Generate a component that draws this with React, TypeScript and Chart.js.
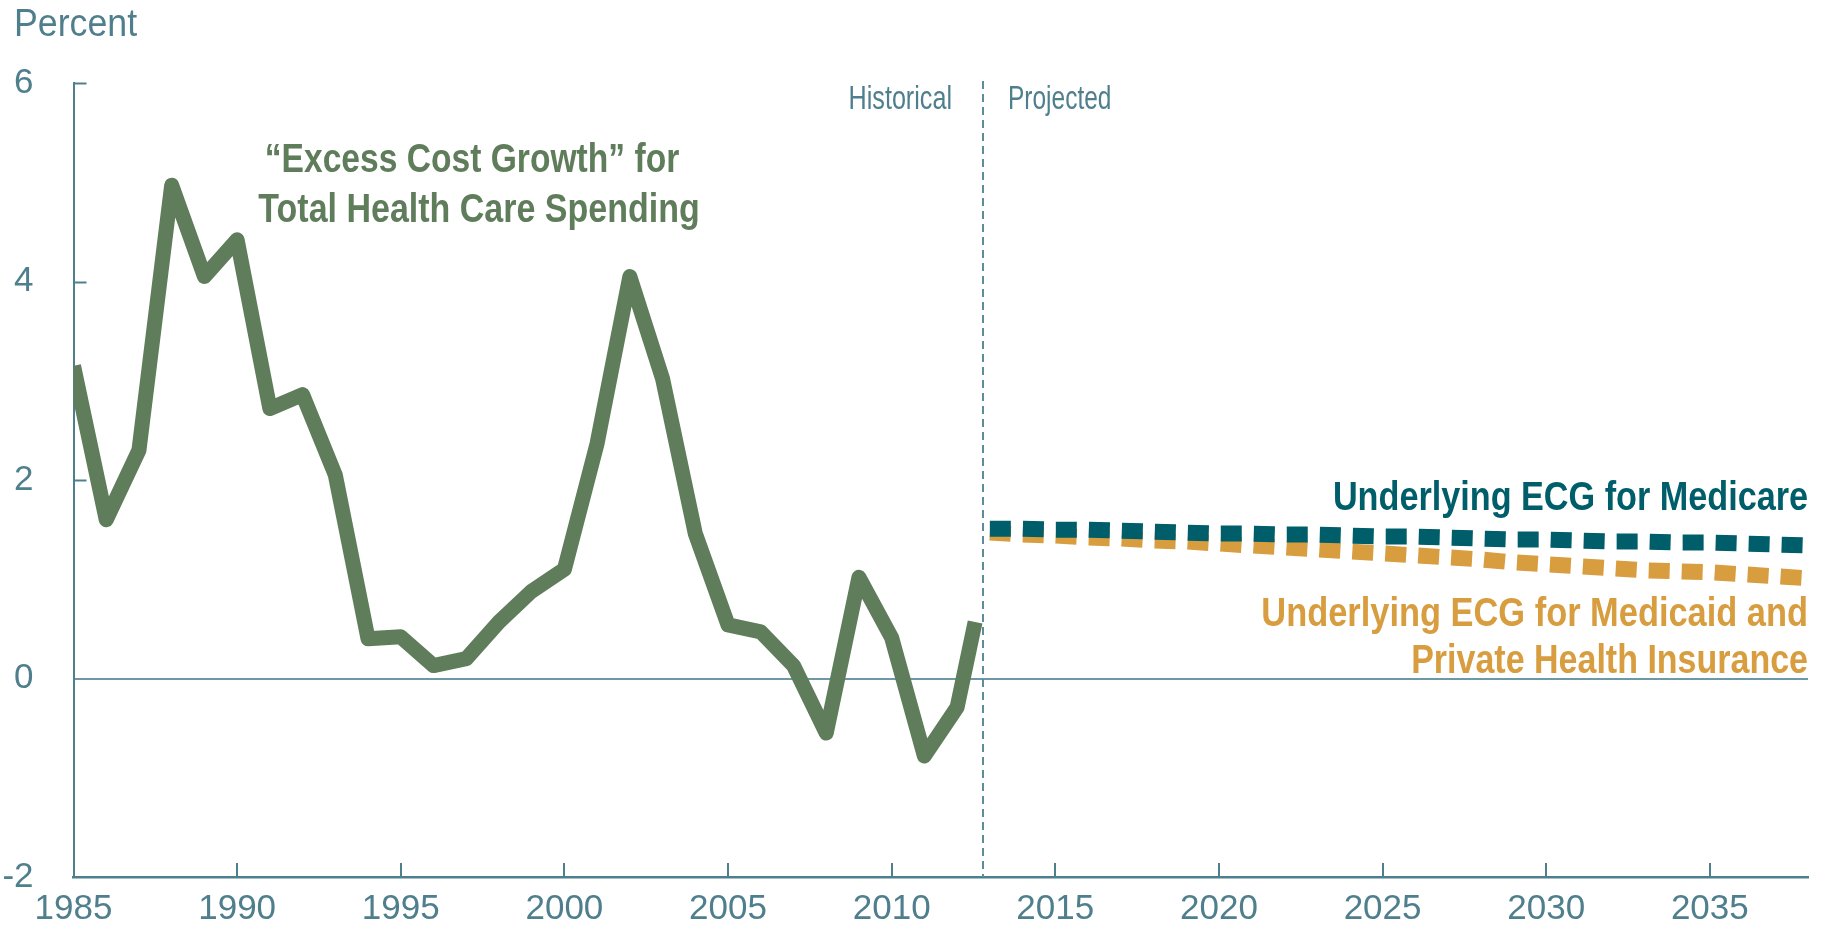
import React, { useEffect, useRef } from "react";
import { Chart, registerables } from "chart.js";

Chart.register(...registerables);

// ---------- data ----------
const histYears = [
  1985, 1986, 1987, 1988, 1989, 1990, 1991, 1992, 1993, 1994, 1995, 1996, 1997, 1998,
  1999, 2000, 2001, 2002, 2003, 2004, 2005, 2006, 2007, 2008, 2009, 2010, 2011, 2012, 2012.55,
];
const histValues = [
  3.15, 1.6, 2.3, 4.97, 4.05, 4.42, 2.72, 2.86, 2.05, 0.4, 0.42, 0.13, 0.2, 0.57,
  0.88, 1.1, 2.37, 4.05, 3.02, 1.46, 0.54, 0.47, 0.13, -0.55, 1.02, 0.41, -0.78, -0.29, 0.57,
];
const projYears = [
  2013, 2014, 2015, 2016, 2017, 2018, 2019, 2020, 2021, 2022, 2023, 2024, 2025,
  2026, 2027, 2028, 2029, 2030, 2031, 2032, 2033, 2034, 2035, 2036, 2037, 2038,
];
const medicareValues = [
  1.51, 1.51, 1.5, 1.5, 1.49, 1.48, 1.47, 1.46, 1.46, 1.45, 1.45, 1.44, 1.43,
  1.43, 1.42, 1.41, 1.4, 1.4, 1.39, 1.38, 1.38, 1.37, 1.37, 1.36, 1.35, 1.34,
];
const medicaidValues = [
  1.47, 1.45, 1.44, 1.42, 1.41, 1.39, 1.38, 1.36, 1.34, 1.32, 1.3, 1.28, 1.26,
  1.24, 1.22, 1.2, 1.17, 1.15, 1.13, 1.11, 1.09, 1.08, 1.07, 1.05, 1.03, 1.01,
];
const xTickValues = [1985, 1990, 1995, 2000, 2005, 2010, 2015, 2020, 2025, 2030, 2035];
const yTickValues = [-2, 0, 2, 4, 6];
const dividerYear = 2012.8;

// ---------- styles ----------
const FONT = '"Liberation Sans", Arial, sans-serif';
const AXIS_COLOR = "#4e7f8e";
const TEXT_COLOR = "#4f7f8d";
const ZERO_COLOR = "#6d99a7";
const GREEN = "#5f7d5b";
const TEAL = "#005e6b";
const ORANGE = "#d79d3f";

function drawScaled(
  ctx: CanvasRenderingContext2D,
  text: string,
  x: number,
  y: number,
  font: string,
  color: string,
  align: "left" | "right" | "center",
  sx: number
) {
  ctx.save();
  ctx.font = font;
  ctx.fillStyle = color;
  ctx.textBaseline = "alphabetic";
  ctx.textAlign = "left";
  const w = ctx.measureText(text).width * sx;
  const left = align === "right" ? x - w : align === "center" ? x - w / 2 : x;
  ctx.translate(left, y);
  ctx.scale(sx, 1);
  ctx.fillText(text, 0, 0);
  ctx.restore();
}

const decorPlugin = {
  id: "decor",
  beforeDatasetsDraw(chart: any) {
    const ctx: CanvasRenderingContext2D = chart.ctx;
    const { left, bottom, top } = chart.chartArea;
    const xs = chart.scales.x;
    const ys = chart.scales.y;
    ctx.save();
    ctx.strokeStyle = AXIS_COLOR;
    ctx.lineWidth = 2;
    // inner y ticks
    yTickValues.forEach((v) => {
      if (v === -2 || v === 0) return;
      const py = Math.round(ys.getPixelForValue(v)) + 0.5;
      ctx.beginPath();
      ctx.moveTo(left, py);
      ctx.lineTo(left + 13, py);
      ctx.stroke();
    });
    // inner x ticks
    xTickValues.forEach((v) => {
      if (v === 1985) return;
      const px = Math.round(xs.getPixelForValue(v));
      ctx.beginPath();
      ctx.moveTo(px, bottom);
      ctx.lineTo(px, bottom - 14);
      ctx.stroke();
    });
    // historical / projected divider
    const dx = Math.round(xs.getPixelForValue(dividerYear));
    ctx.strokeStyle = "#5d8c9a";
    ctx.lineWidth = 2;
    ctx.setLineDash([8, 5]);
    ctx.beginPath();
    ctx.moveTo(dx, top - 2);
    ctx.lineTo(dx, bottom);
    ctx.stroke();
    ctx.restore();
  },
  afterDraw(chart: any) {
    const ctx: CanvasRenderingContext2D = chart.ctx;
    drawScaled(ctx, "Percent", 14, 36, `38px ${FONT}`, TEXT_COLOR, "left", 0.94);
    drawScaled(ctx, "Historical", 952, 109, `34px ${FONT}`, TEXT_COLOR, "right", 0.74);
    drawScaled(ctx, "Projected", 1008, 109, `34px ${FONT}`, TEXT_COLOR, "left", 0.72);
    const bold = `bold 40px ${FONT}`;
    drawScaled(ctx, "\u201CExcess Cost Growth\u201D for", 472, 172, bold, GREEN, "center", 0.84);
    drawScaled(ctx, "Total Health Care Spending", 479, 222, bold, GREEN, "center", 0.85);
    drawScaled(ctx, "Underlying ECG for Medicare", 1808, 510, bold, TEAL, "right", 0.855);
    drawScaled(ctx, "Underlying ECG for Medicaid and", 1808, 626, bold, ORANGE, "right", 0.86);
    drawScaled(ctx, "Private Health Insurance", 1808, 673, bold, ORANGE, "right", 0.85);
  },
};

export default function App() {
  const ref = useRef<HTMLCanvasElement | null>(null);

  useEffect(() => {
    if (!ref.current) return;
    const chart = new Chart(ref.current, {
      type: "line",
      data: {
        datasets: [
          {
            label: "Excess Cost Growth",
            data: histYears.map((x, i) => ({ x, y: histValues[i] })),
            borderColor: GREEN,
            borderWidth: 15,
            pointRadius: 0,
            tension: 0,
            fill: false,
            borderJoinStyle: "round",
            borderCapStyle: "butt",
          },
          {
            label: "Medicare",
            data: projYears.map((x, i) => ({ x, y: medicareValues[i] })),
            borderColor: TEAL,
            borderWidth: 16,
            borderDash: [21, 12],
            pointRadius: 0,
            tension: 0,
            fill: false,
            borderCapStyle: "butt",
          },
          {
            label: "Medicaid and PHI",
            data: projYears.map((x, i) => ({ x, y: medicaidValues[i] })),
            borderColor: ORANGE,
            borderWidth: 16,
            borderDash: [21, 12],
            pointRadius: 0,
            tension: 0,
            fill: false,
            borderCapStyle: "butt",
          },
        ],
      },
      options: {
        responsive: false,
        animation: false,
        devicePixelRatio: 1,
        layout: { padding: { top: 83, right: 17, left: 0, bottom: 0 } },
        plugins: { legend: { display: false }, tooltip: { enabled: false } },
        scales: {
          x: {
            type: "linear",
            min: 1985,
            max: 2038,
            afterBuildTicks: (s: any) => {
              s.ticks = xTickValues.map((v) => ({ value: v }));
            },
            afterFit: (s: any) => {
              s.height = 52;
            },
            grid: { display: false, drawTicks: false },
            border: { display: true, color: AXIS_COLOR, width: 2.5 },
            ticks: {
              autoSkip: false,
              maxRotation: 0,
              padding: 11,
              color: TEXT_COLOR,
              font: { family: FONT, size: 35 },
              callback: (v: any) => String(v),
            },
          },
          y: {
            type: "linear",
            min: -2,
            max: 6,
            afterBuildTicks: (s: any) => {
              s.ticks = yTickValues.map((v) => ({ value: v }));
            },
            afterFit: (s: any) => {
              s.width = 73.5;
              s.paddingTop = 0;
              s.paddingBottom = 0;
            },
            grid: {
              drawTicks: false,
              lineWidth: 2,
              color: (c: any) => (c.tick && c.tick.value === 0 ? ZERO_COLOR : "rgba(0,0,0,0)"),
            },
            border: { display: true, color: AXIS_COLOR, width: 2 },
            ticks: {
              padding: 40,
              color: TEXT_COLOR,
              font: { family: FONT, size: 35 },
              callback: (v: any) => String(v),
            },
          },
        },
      },
      plugins: [decorPlugin],
    });
    return () => chart.destroy();
  }, []);

  return (
    <div style={{ position: "fixed", left: 0, top: 0, width: 1825, height: 929, background: "#fff" }}>
      <canvas ref={ref} width={1825} height={929} style={{ width: 1825, height: 929, display: "block" }} />
    </div>
  );
}
